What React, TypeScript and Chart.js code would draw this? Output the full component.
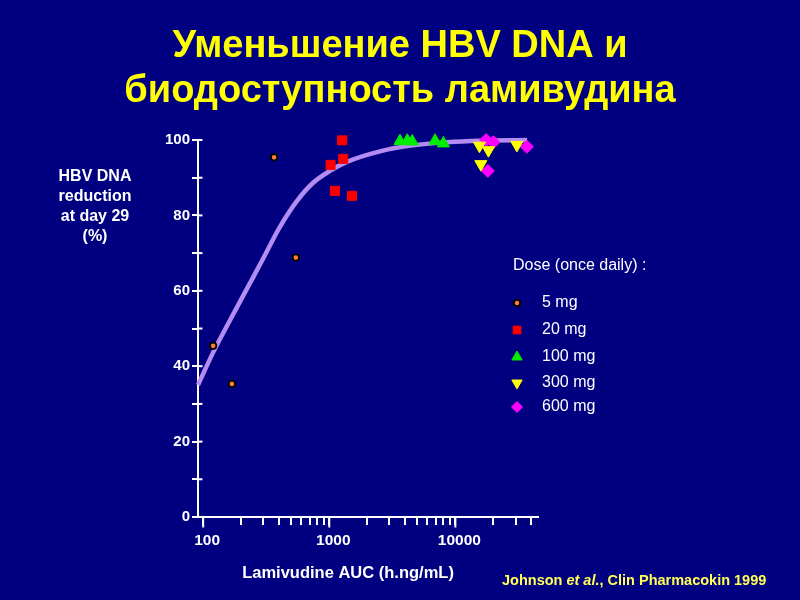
import React, { useEffect, useRef } from 'react';
import { Chart, registerables } from 'chart.js';
import { drawPoint } from 'chart.js/helpers';

Chart.register(...registerables);

// ---------- data ----------
const titleLines = ['Уменьшение HBV DNA и', 'биодоступность ламивудина'];
const yTitleLines = ['HBV DNA', 'reduction', 'at day 29', '(%)'];
const xTitle = 'Lamivudine AUC (h.ng/mL)';
const legendTitle = 'Dose (once daily) :';
const doseLabels = ['5 mg', '20 mg', '100 mg', '300 mg', '600 mg'];

const dose5AUC = [120, 169, 365, 543];
const dose5Red = [45.4, 35.3, 95.4, 68.8];
const dose20AUC = [1266, 1290, 1024, 1108, 1512];
const dose20Red = [99.9, 95.0, 93.4, 86.5, 85.2];
const dose100AUC = [3636, 4157, 4552, 6900, 8035];
const dose100Red = [99.7, 99.8, 99.6, 99.8, 99.1];
const dose300AUC = [15520, 18290, 15920, 30740];
const dose300Red = [98.5, 97.3, 93.6, 98.7];
const dose600AUC = [17530, 20040, 18080, 36900];
const dose600Red = [100, 99.4, 91.8, 98.2];

const curveAUC = [91, 119, 162, 222, 292, 405, 553, 741, 1012, 1380, 2524, 4617, 8590, 15710, 37070];
const curveRed = [35, 43.4, 52.0, 60.5, 67.9, 76.9, 83.8, 88.6, 91.8, 94.2, 97, 98.6, 99.4, 99.8, 100];

const xMajorTicks = [100, 1000, 10000];
const xMinorTicks = [
  100, 200, 300, 400, 500, 600, 700, 800, 900,
  1000, 2000, 3000, 4000, 5000, 6000, 7000, 8000, 9000,
  10000, 20000, 30000, 40000,
];
const yTickValues = [0, 10, 20, 30, 40, 50, 60, 70, 80, 90, 100];
const yLabelValues = [0, 20, 40, 60, 80, 100];

const citationParts = ['Johnson ', 'et al.', ', Clin Pharmacokin 1999'];

// ---------- styles ----------
const FONT = "'Liberation Sans', Arial, Helvetica, sans-serif";
const BG = '#000080';
const WHITE = '#ffffff';

const pts = (xs: number[], ys: number[]) => xs.map((x, i) => ({ x, y: ys[i] }));

const doseStyles = [
  { pointStyle: 'circle', radius: 3.2, rotation: 0, fill: '#ff7f3a', border: '#000000', borderWidth: 1.8 },
  { pointStyle: 'rect', radius: 6.4, rotation: 0, fill: '#ff0000', border: '#ff0000', borderWidth: 1 },
  { pointStyle: 'triangle', radius: 7, rotation: 0, fill: '#00ee00', border: '#00ee00', borderWidth: 1 },
  { pointStyle: 'triangle', radius: 7, rotation: 180, fill: '#ffff00', border: '#ffff00', borderWidth: 1 },
  { pointStyle: 'rectRot', radius: 6.5, rotation: 0, fill: '#ff00ff', border: '#ff00ff', borderWidth: 1 },
];

const slidePlugin = {
  id: 'slideText',
  afterDraw(chart: any) {
    const ctx = chart.ctx as CanvasRenderingContext2D;
    const xs = chart.scales.x;
    const ys = chart.scales.y;
    ctx.save();

    // inner half of y ticks and longer major x ticks
    ctx.strokeStyle = WHITE;
    ctx.lineWidth = 2;
    yTickValues.forEach((v) => {
      const py = ys.getPixelForValue(v);
      ctx.beginPath();
      ctx.moveTo(ys.right, py);
      ctx.lineTo(ys.right + 4.5, py);
      ctx.stroke();
    });
    xMajorTicks.forEach((v) => {
      const px = xs.getPixelForValue(v);
      ctx.beginPath();
      ctx.moveTo(px, xs.top);
      ctx.lineTo(px, xs.top + 10.5);
      ctx.stroke();
    });

    // title
    ctx.fillStyle = '#ffff00';
    ctx.font = `bold 38px ${FONT}`;
    ctx.textAlign = 'center';
    ctx.textBaseline = 'middle';
    titleLines.forEach((t, i) => ctx.fillText(t, 400, 47 + i * 45));

    // y title
    ctx.fillStyle = WHITE;
    ctx.font = `bold 16px ${FONT}`;
    yTitleLines.forEach((t, i) => ctx.fillText(t, 95, 177 + i * 20));

    // x title
    ctx.font = `bold 16.5px ${FONT}`;
    ctx.fillText(xTitle, 348, 573);

    // legend
    ctx.textAlign = 'left';
    ctx.font = `16px ${FONT}`;
    ctx.fillText(legendTitle, 513, 266);
    const legendY = [303, 330, 357, 383, 407];
    doseLabels.forEach((lab, i) => {
      const s = doseStyles[i];
      ctx.fillStyle = s.fill;
      ctx.strokeStyle = s.border;
      ctx.lineWidth = s.borderWidth;
      drawPoint(ctx, { pointStyle: s.pointStyle, radius: s.radius * (i === 0 ? 1 : 0.85), rotation: s.rotation, borderWidth: s.borderWidth } as any, 517, legendY[i]);
      ctx.fillStyle = WHITE;
      ctx.fillText(lab, 542, legendY[i]);
    });

    // citation
    ctx.fillStyle = '#ffff55';
    let cx = 502;
    citationParts.forEach((p, i) => {
      ctx.font = `${i === 1 ? 'italic ' : ''}bold 14.5px ${FONT}`;
      ctx.fillText(p, cx, 581);
      cx += ctx.measureText(p).width;
    });

    ctx.restore();
  },
};

export default function App() {
  const ref = useRef<HTMLCanvasElement | null>(null);

  useEffect(() => {
    if (!ref.current) return;
    const doseData = [
      pts(dose5AUC, dose5Red),
      pts(dose20AUC, dose20Red),
      pts(dose100AUC, dose100Red),
      pts(dose300AUC, dose300Red),
      pts(dose600AUC, dose600Red),
    ];
    const datasets: any[] = doseData.map((d, i) => {
      const s = doseStyles[i];
      return {
        label: doseLabels[i],
        data: d,
        showLine: false,
        pointStyle: s.pointStyle,
        pointRadius: s.radius,
        pointRotation: s.rotation,
        pointBackgroundColor: s.fill,
        pointBorderColor: s.border,
        pointBorderWidth: s.borderWidth,
        clip: false,
      };
    });
    datasets.push({
      label: 'fit',
      data: pts(curveAUC, curveRed),
      showLine: true,
      borderColor: '#b48cf2',
      borderWidth: 4.5,
      pointRadius: 0,
      cubicInterpolationMode: 'monotone',
      clip: false,
    });

    const chart = new Chart(ref.current, {
      type: 'scatter',
      data: { datasets },
      options: {
        responsive: false,
        animation: false,
        layout: { padding: { left: 0, top: 140, right: 262, bottom: 0 } },
        plugins: {
          legend: { display: false },
          tooltip: { enabled: false },
          title: { display: false },
        },
        scales: {
          x: {
            type: 'logarithmic',
            position: 'bottom',
            min: 91,
            max: 45200,
            afterFit: (s: any) => { s.height = 83; },
            afterBuildTicks: (s: any) => { s.ticks = xMinorTicks.map((v) => ({ value: v })); },
            ticks: {
              autoSkip: false,
              maxRotation: 0,
              color: WHITE,
              padding: 6,
              labelOffset: 4,
              font: { family: FONT, weight: 'bold', size: 15.5 },
              callback: (v: any) => (xMajorTicks.includes(Number(v)) ? String(v) : ''),
            },
            grid: { drawOnChartArea: false, drawTicks: true, tickLength: 8, color: WHITE, lineWidth: 2 },
            border: { display: true, color: WHITE, width: 2 },
          },
          y: {
            min: 0,
            max: 100,
            afterFit: (s: any) => { s.width = 198; },
            afterBuildTicks: (s: any) => { s.ticks = yTickValues.map((v) => ({ value: v })); },
            ticks: {
              color: WHITE,
              padding: 2,
              font: { family: FONT, weight: 'bold', size: 15 },
              callback: (v: any) => (yLabelValues.includes(Number(v)) ? String(v) : ''),
            },
            grid: { drawOnChartArea: false, drawTicks: true, tickLength: 6, color: WHITE, lineWidth: 2 },
            border: { display: true, color: WHITE, width: 2 },
          },
        },
      } as any,
      plugins: [slidePlugin],
    });
    return () => chart.destroy();
  }, []);

  return (
    <div style={{ position: 'fixed', left: 0, top: 0, width: 800, height: 600, background: BG }}>
      <canvas ref={ref} width={800} height={600} style={{ display: 'block', width: 800, height: 600 }} />
    </div>
  );
}
